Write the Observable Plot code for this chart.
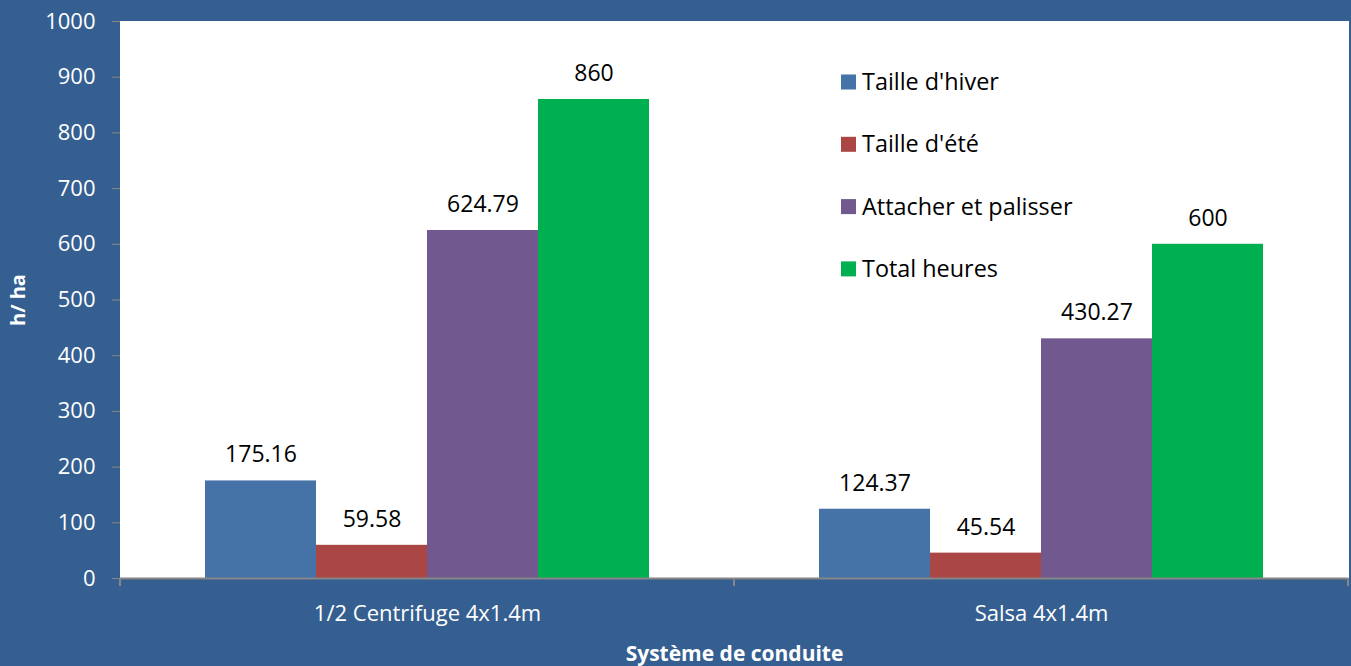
<!DOCTYPE html>
<html><head><meta charset="utf-8">
<script src="https://cdn.jsdelivr.net/npm/d3@7"></script>
<script src="https://cdn.jsdelivr.net/npm/@observablehq/plot@0.6"></script>
<style>
html,body{margin:0;padding:0;background:#365F91;overflow:hidden;}
#chart svg{display:block;}
</style></head><body><div id="chart"></div>
<script>
const categories = ["1/2 Centrifuge 4x1.4m", "Salsa 4x1.4m"];
const series = ["Taille d'hiver", "Taille d'été", "Attacher et palisser", "Total heures"];
const centrifugeValues = [175.16, 59.58, 624.79, 860];
const salsaValues = [124.37, 45.54, 430.27, 600];
const valueLabels = [["175.16", "59.58", "624.79", "860"], ["124.37", "45.54", "430.27", "600"]];
const seriesColors = ["#4572A7", "#AA4643", "#71588F", "#00B050"];
const yTicks = [0, 100, 200, 300, 400, 500, 600, 700, 800, 900, 1000];
const yLabel = "h/ ha";
const xLabel = "Système de conduite";

const data = [];
[centrifugeValues, salsaValues].forEach((vals, ci) => {
  series.forEach((s, si) => data.push({category: categories[ci], series: s, value: vals[si], label: valueLabels[ci][si]}));
});

const FONT = "'Open Sans', sans-serif";
const plot = Plot.plot({
  width: 1351, height: 666,
  marginTop: 21, marginLeft: 119, marginRight: 3, marginBottom: 88,
  style: {background: "#365F91", fontFamily: FONT, fontSize: "22px", color: "white", overflow: "visible"},
  fx: {domain: categories, padding: 0, paddingInner: 0, paddingOuter: 0},
  x: {domain: series, paddingInner: 0, paddingOuter: 0.745, axis: null},
  y: {domain: [0, 1000]},
  color: {domain: series, range: seriesColors},
  marks: [
    Plot.frame({fill: "white", stroke: "white", strokeWidth: 1}),
    Plot.barY(data, {fx: "category", x: "series", y: "value", fill: "series"}),
    Plot.text(data, {fx: "category", x: "series", y: "value", text: "label", dy: -26, fill: "black", fontSize: 23, fontFamily: FONT}),
    Plot.ruleY([0], {stroke: "#868686", strokeWidth: 2}),
    Plot.axisY({ticks: yTicks, tickFormat: d => String(d), tickSize: 8, tickPadding: 17, stroke: "#868686", fill: "white", fontSize: 22,
      line: true, label: yLabel, labelAnchor: "center", labelArrow: false, labelOffset: 110}),
    Plot.axisFx({anchor: "bottom", tickSize: 0, tickPadding: 27, fill: "white", fontSize: 22,
      label: xLabel, labelAnchor: "center", labelArrow: false, labelOffset: 82})
  ]
});

const svg = d3.select(plot);
svg.selectAll('g[aria-label="y-axis label"] text')
  .attr("font-weight", "bold").attr("font-size", 20);
svg.selectAll('g[aria-label="fx-axis label"] text')
  .attr("font-weight", "bold").attr("font-size", 21);

// category boundary tick marks on the x axis
const fx = plot.scale("fx");
const y = plot.scale("y");
const y0 = y.apply(0);
const bounds = categories.map(c => fx.apply(c)).concat([fx.apply(categories[categories.length - 1]) + fx.bandwidth]);
svg.append("g").selectAll("line").data(bounds).join("line")
  .attr("x1", d => d).attr("x2", d => d)
  .attr("y1", y0).attr("y2", y0 + 8)
  .attr("stroke", "#868686").attr("stroke-width", 2);

// legend inside plot area
const color = plot.scale("color");
const lg = svg.append("g").attr("font-family", FONT).attr("font-size", 23.4).attr("text-anchor", "start");
series.forEach((s, i) => {
  const cy = 82 + i * 62.3;
  lg.append("rect").attr("x", 841).attr("y", cy - 7.5).attr("width", 15).attr("height", 15).attr("fill", color.apply(s));
  lg.append("text").attr("x", 862).attr("y", cy).attr("dy", "0.35em").attr("fill", "black").text(s);
});

document.getElementById("chart").append(plot);
</script>
</body></html>
